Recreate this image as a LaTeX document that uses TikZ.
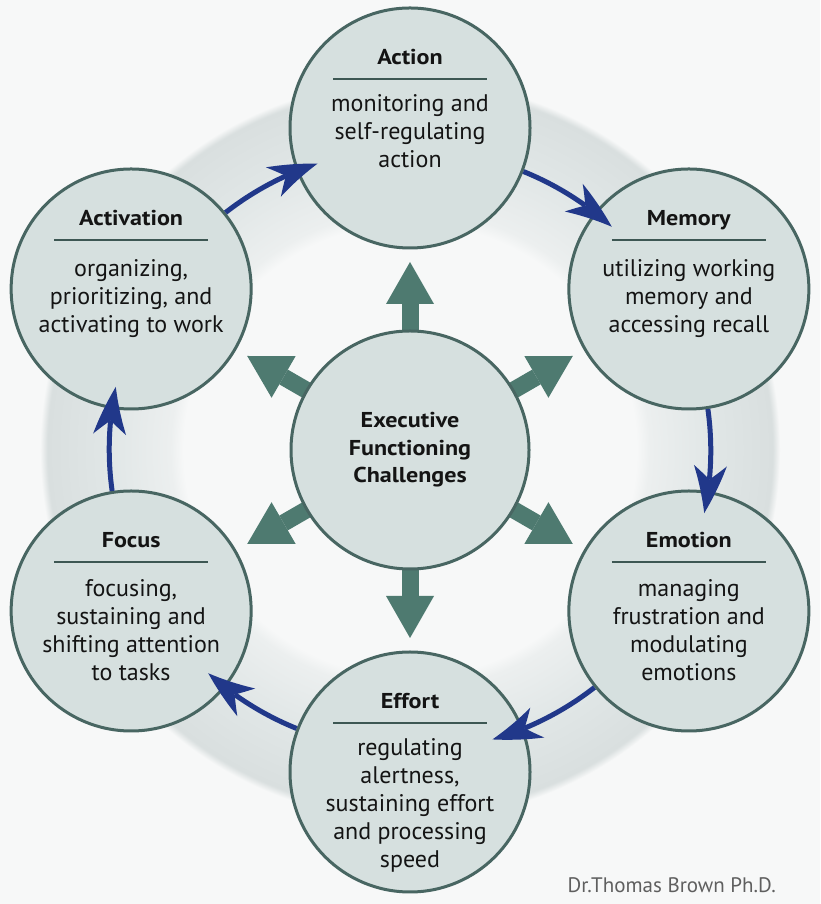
\documentclass[tikz,border=0pt]{standalone}
\usepackage{fontspec}
\setmainfont{PT Sans}[BoldFeatures={FakeStretch=1.12}]
\usetikzlibrary{arrows.meta,calc,bending}
\definecolor{bgc}{RGB}{247,248,248}
\definecolor{circfill}{RGB}{214,224,223}
\definecolor{circline}{RGB}{72,102,98}
\definecolor{ringA}{RGB}{236,239,239}
\definecolor{ringB}{RGB}{224,230,230}
\definecolor{ringC}{RGB}{217,223,223}
\definecolor{greenarr}{RGB}{78,122,112}
\definecolor{bluearr}{RGB}{33,56,138}
\definecolor{creditc}{RGB}{95,95,95}
\definecolor{txt}{RGB}{20,20,20}
\pgfdeclareradialshading{ringshade}{\pgfpoint{0bp}{0bp}}{color(0bp)=(bgc); color(15.3bp)=(bgc); color(16.2bp)=(ringA); color(20.5bp)=(ringB); color(24.5bp)=(ringC); color(25bp)=(bgc); color(50bp)=(bgc)}
\pgfdeclarelayer{ringlayer}
\pgfdeclarelayer{arrlayer}
\pgfsetlayers{ringlayer,arrlayer,main}
\tikzset{
  circ/.style={circle, draw=circline, line width=3pt, fill=circfill, minimum size=240pt, inner sep=0pt, align=center, text=txt},
  ttl/.style={font=\bfseries\fontsize{21.5}{24}\selectfont, text=txt, inner sep=0pt, anchor=base},
  bodytxt/.style={font=\fontsize{24}{28}\selectfont, text=txt, align=center, inner sep=0pt, anchor=north},
  rulel/.style={draw=circline!85!black, line width=2.5pt},
  barr/.style={draw=bluearr, line width=5pt, -{Stealth[length=48pt,width=33pt,inset=14pt,line width=0pt,bend]}},
  garr/.style={draw=greenarr, line width=17pt, shorten <=100pt, -{Triangle[length=42pt,width=48pt,line width=0pt]}}
}
\newcommand\efcirc[5]{%
  \node[circ] (#1) at (#2) {};
  \node[ttl] (#1-t) at ([yshift=63pt]#1.center) {#3};
  \draw[rulel] ([shift={(-77pt,49pt)}]#1.center) -- ([shift={(77pt,49pt)}]#1.center);
  \node[bodytxt] (#1-b) at ([yshift=#5]#1.center) {\strut #4};
}
\begin{document}
\begin{tikzpicture}[x=1pt,y=1pt]
\useasboundingbox (0,0) rectangle (820,904);
\coordinate (C) at (410,454);
\node[circ, minimum size=238pt, font=\bfseries\fontsize{21.5}{27.5}\selectfont] (ctr) at (C) {Executive\\Functioning\\Challenges};
\efcirc{action}{$(C)+(90:322)$}{Action}{monitoring and\\self-regulating\\action}{36pt}
\efcirc{memory}{$(C)+(30:322)$}{Memory}{utilizing working\\memory and\\accessing recall}{32pt}
\efcirc{emotion}{$(C)+(-30:322)$}{Emotion}{managing\\frustration and\\modulating\\emotions}{34pt}
\efcirc{effort}{$(C)+(-90:322)$}{Effort}{regulating\\alertness,\\sustaining effort\\and processing\\speed}{36pt}
\efcirc{focus}{$(C)+(210:322)$}{Focus}{focusing,\\sustaining and\\shifting attention\\to tasks}{34pt}
\efcirc{activation}{$(C)+(150:322)$}{Activation}{organizing,\\prioritizing, and\\activating to work}{32pt}
\draw[barr] (activation.39) arc[start angle=128, end angle=108, radius=300];
\draw[barr] (action.-21) arc[start angle=68, end angle=48, radius=300];
\draw[barr] (memory.-81) arc[start angle=8, end angle=-12, radius=300];
\draw[barr] (emotion.219) arc[start angle=-52, end angle=-74, radius=300];
\draw[barr] (effort.159) arc[start angle=248, end angle=228, radius=300];
\draw[barr] (focus.99) arc[start angle=188, end angle=168, radius=300];
\node[anchor=base east, text=creditc, inner sep=0pt, font=\fontsize{21}{24}\selectfont] (credit) at (776,11) {Dr.Thomas Brown Ph.D.};
\begin{pgfonlayer}{arrlayer}
\foreach \a in {90,30,-30,-90,-150,150} \draw[garr] (ctr.center) -- ++(\a:188);
\end{pgfonlayer}
\begin{pgfonlayer}{ringlayer}
\fill[bgc] (0,0) rectangle (820,904);
\shade[shading=ringshade] (C) circle (370);
\end{pgfonlayer}
\end{tikzpicture}
\end{document}
